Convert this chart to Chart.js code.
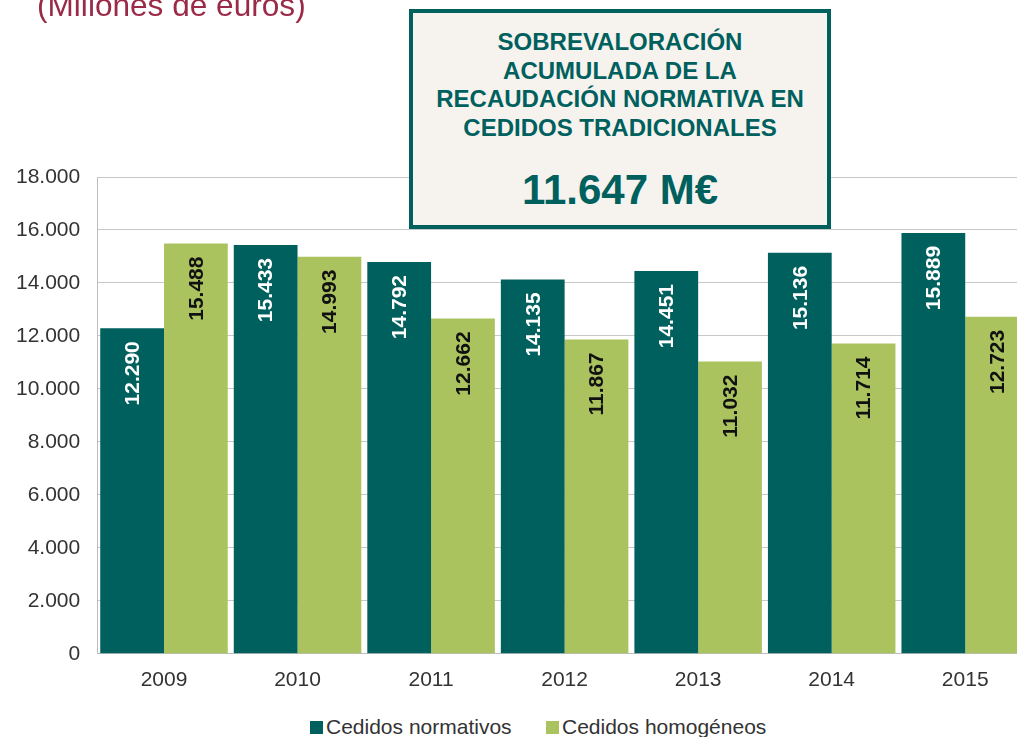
<!DOCTYPE html>
<html>
<head>
<meta charset="utf-8">
<script src="https://cdn.jsdelivr.net/npm/chart.js@4.4.1/dist/chart.umd.min.js"></script>
<style>
  html, body { margin: 0; padding: 0; background: #fff; overflow: hidden; }
  #wrap { position: relative; width: 1017px; height: 737px; overflow: hidden; font-family: "Liberation Sans", Arial, sans-serif; }
  #chartBox { position: absolute; left: 0; top: 0; width: 1082px; height: 713px; }
  #subtitulo {
    position: absolute; left: 37px; top: -11px;
    font-size: 31.6px; line-height: 32px;
    color: #9a2a48; white-space: nowrap;
  }
  #recuadro {
    position: absolute; left: 409px; top: 9px; width: 414px; height: 212px;
    border: 4px solid #00605e; background: #f6f3ee;
    color: #00605e; text-align: center; font-weight: bold;
  }
  #recuadro .txt { margin-top: 15px; font-size: 24px; line-height: 28.5px; white-space: nowrap; }
  #recuadro .num { margin-top: 25px; font-size: 42px; line-height: 46px; }
  #leyenda { position: absolute; left: 0; top: 714px; width: 1017px; height: 26px; font-size: 21px; color: #333; }
  #leyenda span { position: absolute; top: 0; line-height: 26px; white-space: nowrap; }
  #leyenda i { position: absolute; top: 7px; width: 13px; height: 13px; }
</style>
</head>
<body>
<div id="wrap">
  <div id="chartBox"><canvas id="grafico"></canvas></div>
  <div id="subtitulo">(Millones de euros)</div>
  <div id="recuadro">
    <div class="txt">SOBREVALORACIÓN<br>ACUMULADA DE LA<br>RECAUDACIÓN NORMATIVA EN<br>CEDIDOS TRADICIONALES</div>
    <div class="num">11.647 M€</div>
  </div>
  <div id="leyenda">
    <i style="left:310px;background:#00605e"></i><span style="left:326px">Cedidos normativos</span>
    <i style="left:546px;background:#abc35f"></i><span style="left:562px">Cedidos homogéneos</span>
  </div>
</div>
<script>
const anios = ['2009', '2010', '2011', '2012', '2013', '2014', '2015']
const normativos = [12290, 15433, 14792, 14135, 14451, 15136, 15889]
const homogeneos = [15488, 14993, 12662, 11867, 11032, 11714, 12723]

const puntos = (v) => String(v).replace(/\B(?=(\d{3})+(?!\d))/g, '.')

// etiquetas verticales dentro de cada barra
const etiquetas = {
  id: 'etiquetas',
  afterDatasetsDraw(chart) {
    const c = chart.ctx
    chart.data.datasets.forEach((ds, i) => {
      chart.getDatasetMeta(i).data.forEach((bar, j) => {
        c.save()
        c.translate(bar.x, bar.y + 13)
        c.rotate(-Math.PI / 2)
        c.font = 'bold 21px "Liberation Sans", Arial, sans-serif'
        c.fillStyle = i === 0 ? '#ffffff' : '#111111'
        c.textAlign = 'right'
        c.textBaseline = 'middle'
        c.fillText(puntos(ds.data[j]), 0, 1)
        c.restore()
      })
    })
  }
}

const fuente = { family: '"Liberation Sans", Arial, sans-serif', size: 21 }

new Chart(document.getElementById('grafico'), {
  type: 'bar',
  data: {
    labels: anios,
    datasets: [{
      label: 'Cedidos normativos',
      data: normativos,
      backgroundColor: '#00605e'
    }, {
      label: 'Cedidos homogéneos',
      data: homogeneos,
      backgroundColor: '#abc35f'
    }]
  },
  options: {
    responsive: true,
    maintainAspectRatio: false,
    animation: false,
    layout: { padding: { left: -1, right: 50, top: 177, bottom: 14 } },
    datasets: { bar: { categoryPercentage: 0.955, barPercentage: 1 } },
    plugins: {
      tooltip: { enabled: false },
      legend: { display: false }
    },
    scales: {
      x: {
        grid: { display: false },
        border: { color: '#bdbdbd' },
        ticks: { color: '#333', padding: 6, font: fuente }
      },
      y: {
        min: 0, max: 18000,
        grid: { color: '#c8c8c8', drawTicks: false },
        border: { color: '#bdbdbd' },
        ticks: {
          stepSize: 2000, padding: 17, color: '#333',
          font: fuente,
          callback: (v) => puntos(v)
        }
      }
    }
  },
  plugins: [etiquetas]
})
</script>
</body>
</html>
